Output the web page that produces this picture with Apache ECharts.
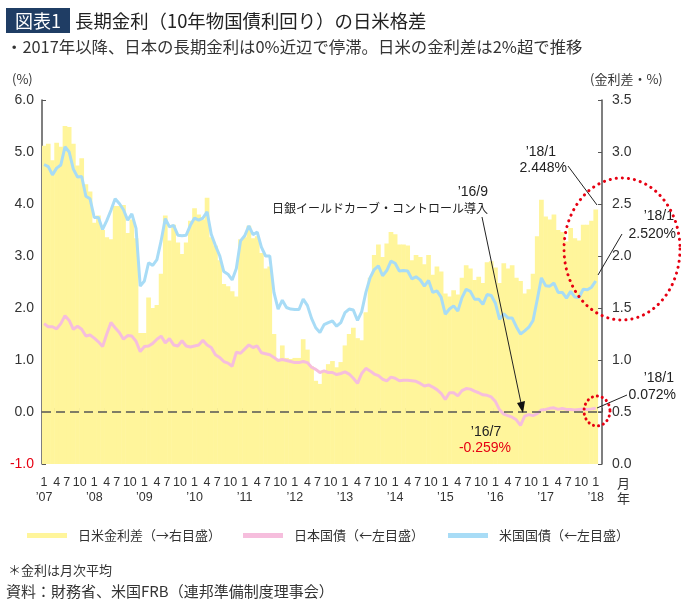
<!DOCTYPE html>
<html><head><meta charset="utf-8">
<script src="https://cdn.jsdelivr.net/npm/echarts@6/dist/echarts.min.js"></script>
<style>html,body{margin:0;padding:0;background:#fff;}#c{width:681px;height:599px;}</style>
</head><body><div id="c"></div>
<script>
// ---- data ----
const yearLabels = ["’07","’08","’09","’10","’11","’12","’13","’14","’15","’16","’17","’18"];
const monthLabels = ['1','4','7','10'];
const categories = [];
for (let y = 2007; y <= 2018; y++) {
  for (let m = 1; m <= 12; m++) {
    if (y === 2018 && m > 1) break;
    categories.push(y + '/' + m);
  }
}
categories.push(''); // empty slot at the right end

// 米国国債 10年 (%)
const usYield = [
4.76,4.72,4.56,4.69,4.75,5.10,5.00,4.67,4.52,4.53,4.15,4.10,
3.74,3.74,3.51,3.68,3.88,4.10,4.01,3.89,3.69,3.81,3.53,2.42,
2.52,2.87,2.82,2.93,3.29,3.72,3.56,3.59,3.40,3.39,3.40,3.59,
3.73,3.69,3.73,3.85,3.42,3.20,3.01,2.70,2.65,2.54,2.76,3.29,
3.39,3.58,3.41,3.46,3.17,3.00,3.00,2.30,1.98,2.15,2.01,1.98,
1.97,1.97,2.17,2.05,1.80,1.62,1.53,1.68,1.72,1.75,1.65,1.72,
1.91,1.98,1.96,1.76,1.93,2.30,2.58,2.74,2.81,2.62,2.72,2.90,
2.86,2.71,2.72,2.71,2.56,2.60,2.54,2.42,2.53,2.30,2.33,2.21,
1.88,1.98,2.04,1.94,2.20,2.36,2.32,2.17,2.17,2.07,2.26,2.24,
2.09,1.78,1.89,1.81,1.81,1.64,1.50,1.56,1.63,1.76,2.16,2.58,
2.43,2.42,2.48,2.30,2.30,2.19,2.32,2.21,2.20,2.36,2.35,2.40,
2.52];

// 日本国債 10年 (%)
const jpYield = [
1.70,1.64,1.64,1.60,1.70,1.85,1.76,1.59,1.65,1.59,1.46,1.48,
1.42,1.35,1.26,1.50,1.72,1.62,1.53,1.40,1.47,1.46,1.36,1.16,
1.26,1.27,1.32,1.40,1.46,1.33,1.41,1.29,1.27,1.37,1.27,1.25,
1.27,1.29,1.38,1.29,1.24,1.10,1.05,0.97,0.94,0.88,1.15,1.13,
1.21,1.29,1.24,1.27,1.14,1.12,1.10,1.05,0.99,1.01,0.99,0.97,
0.95,0.95,0.97,0.95,0.86,0.82,0.76,0.79,0.76,0.76,0.72,0.74,
0.77,0.73,0.65,0.55,0.74,0.84,0.79,0.73,0.70,0.63,0.60,0.67,
0.65,0.60,0.61,0.61,0.60,0.59,0.55,0.50,0.52,0.48,0.43,0.36,
0.24,0.37,0.37,0.31,0.41,0.45,0.44,0.40,0.37,0.33,0.32,0.29,
0.20,0.04,-0.04,-0.07,-0.10,-0.15,-0.259,-0.08,-0.05,-0.07,-0.03,0.04,
0.05,0.07,0.08,0.05,0.07,0.05,0.05,0.04,0.05,0.06,0.05,0.06,
0.072];

// 日米金利差 (%)
const spread = [
3.06,3.08,2.92,3.09,3.05,3.25,3.24,3.08,2.87,2.94,2.69,2.62,
2.32,2.39,2.25,2.18,2.16,2.48,2.48,2.49,2.22,2.35,2.17,1.26,
1.26,1.60,1.50,1.53,1.83,2.39,2.15,2.30,2.13,2.02,2.13,2.34,
2.46,2.40,2.35,2.56,2.18,2.10,1.96,1.73,1.71,1.66,1.61,2.16,
2.18,2.29,2.17,2.19,2.03,1.88,1.90,1.25,0.99,1.14,1.02,1.01,
1.02,1.02,1.20,1.10,0.94,0.80,0.77,0.89,0.96,0.99,0.93,0.98,
1.14,1.25,1.31,1.21,1.19,1.46,1.79,2.01,2.11,1.99,2.12,2.23,
2.21,2.11,2.11,2.10,1.96,2.01,1.99,1.92,2.01,1.82,1.90,1.85,
1.64,1.61,1.67,1.63,1.79,1.91,1.88,1.77,1.80,1.74,1.94,1.95,
1.89,1.74,1.93,1.88,1.91,1.79,1.76,1.64,1.68,1.83,2.19,2.54,
2.38,2.35,2.40,2.25,2.23,2.14,2.27,2.17,2.15,2.30,2.30,2.34,
2.448];

const seriesNames = ['日米金利差（→右目盛）','日本国債（←左目盛）','米国国債（←左目盛）'];
const colors = ['#fff59b','#f6bedd','#a8dcf6'];

// ---- chart ----
const JP = "'Noto Sans CJK JP', sans-serif";
const NUM = "'Liberation Sans', 'Noto Sans CJK JP', sans-serif";
const NARROW = "'Liberation Sans Narrow', 'Liberation Sans', sans-serif";

function ellipsePts(cx, cy, rx, ry, n) {
  const p = [];
  for (let i = 0; i <= n; i++) {
    const a = i / n * Math.PI * 2;
    p.push([cx + rx * Math.cos(a), cy + ry * Math.sin(a)]);
  }
  return p;
}
function txt(x, y, s, opt) {
  return Object.assign({type: 'text', x: x, y: y, z: 20,
    style: Object.assign({text: s, fill: '#222', fontSize: 14, fontFamily: NUM,
      align: 'left', verticalAlign: 'middle'}, opt || {})});
}
function seg(x1, y1, x2, y2) {
  return {type: 'line', z: 20, shape: {x1, y1, x2, y2}, style: {stroke: '#222', lineWidth: 1}};
}

const chart = echarts.init(document.getElementById('c'), null, {renderer: 'canvas'});
const legendBase = {icon: 'rect', itemWidth: 40, itemHeight: 5, top: 529, selectedMode: false,
  padding: 0, textStyle: {fontSize: 13, color: '#333', fontFamily: JP, padding: [0, 0, 0, 6]}};
const monthRich = {
  m7: {fontSize: 12.5, color: '#333', fontFamily: NARROW, padding: [0, 5, 0, 0]},
  m10: {fontSize: 12.5, color: '#333', fontFamily: NARROW, padding: [0, 4, 0, 0]}
};

chart.setOption({
  animation: false,
  backgroundColor: '#fff',
  color: colors,
  grid: {left: 42, right: 79, top: 100, bottom: 135, containLabel: false},
  legend: [
    Object.assign({}, legendBase, {data: [seriesNames[0]], left: 27}),
    Object.assign({}, legendBase, {data: [seriesNames[1]], left: 243}),
    Object.assign({}, legendBase, {data: [seriesNames[2]], left: 448})
  ],
  xAxis: [
    {
      type: 'category', data: categories, boundaryGap: true, position: 'bottom',
      axisLine: {show: true, lineStyle: {color: '#555', width: 1.5}},
      axisTick: {show: true, inside: true, length: 4, lineStyle: {color: '#555', width: 1},
        interval: function (i) { return i % 3 === 0; }},
      axisLabel: {
        show: true, margin: 12, fontSize: 12.5, color: '#333', fontFamily: NARROW,
        hideOverlap: false, showMaxLabel: true, showMinLabel: true, rich: monthRich,
        interval: function (i, v) { return v !== '' && monthLabels.indexOf(v.split('/')[1]) >= 0; },
        formatter: function (v) {
          if (!v) return '';
          const m = v.split('/')[1];
          if (m === '7') return '{m7|7}';
          if (m === '10') return '{m10|10}';
          return m;
        }
      },
      splitLine: {show: false}
    },
    {
      type: 'category', data: categories, boundaryGap: true, position: 'bottom', offset: 0,
      axisLine: {show: false}, axisTick: {show: false}, splitLine: {show: false},
      axisLabel: {
        show: true, margin: 27, fontSize: 12.5, color: '#333', fontFamily: NARROW,
        hideOverlap: false, showMaxLabel: true, showMinLabel: true,
        interval: function (i, v) { return v !== '' && v.split('/')[1] === '1'; },
        formatter: function (v) { return v ? yearLabels[+v.split('/')[0] - 2007] : ''; }
      }
    }
  ],
  yAxis: [
    {type: 'value', min: -1, max: 6, interval: 1, position: 'left',
      axisLine: {show: true, lineStyle: {color: '#555', width: 1.5}},
      axisTick: {show: true, inside: true, length: 4, lineStyle: {color: '#555'}},
      axisLabel: {margin: 8, fontSize: 14, fontFamily: NUM,
        formatter: function (v) { return v.toFixed(1); },
        color: function (v) { return +v < 0 ? '#e60012' : '#333'; }},
      splitLine: {show: false}},
    {type: 'value', min: 0, max: 3.5, interval: 0.5, position: 'right',
      axisLine: {show: true, lineStyle: {color: '#555', width: 1.5}},
      axisTick: {show: true, inside: true, length: 4, lineStyle: {color: '#555'}},
      axisLabel: {margin: 10, fontSize: 14, fontFamily: NUM, color: '#333',
        formatter: function (v) { return v.toFixed(1); }},
      splitLine: {show: false}}
  ],
  series: [
    {name: seriesNames[0], type: 'bar', xAxisIndex: 0, yAxisIndex: 1, data: spread,
      barCategoryGap: '0%', barWidth: 4.7, itemStyle: {color: colors[0]}, z: 1, silent: true},
    {name: seriesNames[1], type: 'line', xAxisIndex: 0, yAxisIndex: 0, data: jpYield, symbol: 'none',
      lineStyle: {color: colors[1], width: 3}, itemStyle: {color: colors[1]}, z: 3, silent: true,
      markLine: {silent: true, symbol: ['none', 'none'], label: {show: false},
        lineStyle: {color: '#555', type: [9, 5], width: 1.5}, data: [{yAxis: 0}]}},
    {name: seriesNames[2], type: 'line', xAxisIndex: 0, yAxisIndex: 0, data: usYield, symbol: 'none',
      lineStyle: {color: colors[2], width: 3}, itemStyle: {color: colors[2]}, z: 4, silent: true}
  ],
  graphic: [
    {type: 'rect', z: 20, shape: {x: 6, y: 8, width: 64, height: 25}, style: {fill: '#1f3d64'}},
    txt(38, 21, '図表1', {fill: '#fff', fontSize: 18, fontFamily: JP, align: 'center'}),
    txt(75, 21, '長期金利（10年物国債利回り）の日米格差', {fontSize: 18.4, fontFamily: JP}),
    txt(6, 47, '・2017年以降、日本の長期金利は0%近辺で停滞。日米の金利差は2%超で推移', {fontSize: 16.4, fontFamily: JP, fill: '#333'}),
    txt(12, 79, '(%)', {fontSize: 13, fontFamily: JP, fill: '#333'}),
    txt(590, 79, '(金利差・%)', {fontSize: 13, fontFamily: JP, fill: '#333'}),
    txt(617, 483, '月', {fontSize: 13, fontFamily: JP, fill: '#333'}),
    txt(617, 498, '年', {fontSize: 13, fontFamily: JP, fill: '#333'}),
    // annotations
    txt(556, 152, '’18/1', {align: 'right'}),
    txt(567, 168, '2.448%', {align: 'right'}),
    seg(568, 166, 597, 205),
    txt(674, 216, '’18/1', {align: 'right'}),
    txt(676, 234, '2.520%', {align: 'right'}),
    seg(622, 234, 598, 275),
    txt(674, 378, '’18/1', {align: 'right'}),
    txt(676, 395, '0.072%', {align: 'right'}),
    seg(627, 395, 597, 408),
    txt(486, 432, '’16/7', {align: 'center'}),
    txt(485, 448, '-0.259%', {align: 'center', fill: '#e60012'}),
    txt(488, 192, '’16/9', {align: 'right'}),
    txt(488, 208, '日銀イールドカーブ・コントロール導入', {align: 'right', fontSize: 12, fontFamily: JP}),
    seg(482, 217, 521, 403),
    {type: 'polygon', z: 20, shape: {points: [[523, 413], [525, 401], [517, 403]]}, style: {fill: '#111'}},
    // red dotted ellipses
    {type: 'polyline', z: 21, shape: {points: ellipsePts(622, 249, 58, 71, 120)},
      style: {stroke: '#e60012', lineWidth: 3, lineDash: [0.1, 6], lineCap: 'round', fill: null}},
    {type: 'polyline', z: 21, shape: {points: ellipsePts(597, 411, 13, 15, 40)},
      style: {stroke: '#e60012', lineWidth: 3, lineDash: [0.1, 5], lineCap: 'round', fill: null}},
    // notes
    txt(8, 570, '＊金利は月次平均', {fontSize: 13, fontFamily: JP, fill: '#333'}),
    txt(6, 591, '資料：財務省、米国FRB（連邦準備制度理事会）', {fontSize: 15, fontFamily: JP, fill: '#333'})
  ]
});
</script>
</body></html>
